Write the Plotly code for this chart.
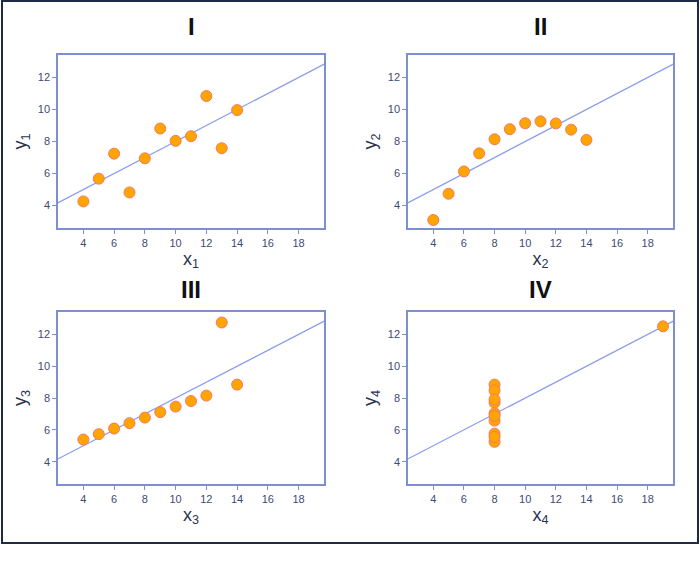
import numpy as np
import plotly.graph_objects as go

# Anscombe's quartet
x123 = [10, 8, 13, 9, 11, 14, 6, 4, 12, 7, 5]
y1 = [8.04, 6.95, 7.58, 8.81, 8.33, 9.96, 7.24, 4.26, 10.84, 4.82, 5.68]
y2 = [9.14, 8.14, 8.74, 8.77, 9.26, 8.10, 6.13, 3.10, 9.13, 7.26, 4.74]
y3 = [7.46, 6.77, 12.74, 7.11, 7.81, 8.84, 6.08, 5.39, 8.15, 6.42, 5.73]
x4 = [8, 8, 8, 8, 8, 8, 8, 19, 8, 8, 8]
y4 = [6.58, 5.76, 7.71, 8.84, 8.47, 7.04, 5.25, 12.50, 5.56, 7.91, 6.89]
titles = ["I", "II", "III", "IV"]
x_ticks = [4, 6, 8, 10, 12, 14, 16, 18]
y_ticks = [4, 6, 8, 10, 12]

datasets = [(x123, y1), (x123, y2), (x123, y3), (x4, y4)]

W, H = 700, 569
cols = [(58, 324), (408, 673)]
rows = [(55, 228), (312, 484)]
title_y = [27, 289]
x_range = [2.35, 19.65]
y_range = [2.6, 13.4]

frame_col = "#7d8fd0"
tick_col = "#3e4a74"
line_col = "#8a9cf0"

fig = go.Figure()
for i, (xs, ys) in enumerate(datasets):
    r, c = divmod(i, 2)
    n = "" if i == 0 else str(i + 1)
    xa, ya = "x" + n, "y" + n
    slope, intercept = np.polyfit(xs, ys, 1)
    lx = np.array([0.0, 22.0])
    fig.add_trace(go.Scatter(x=lx, y=intercept + slope * lx, mode="lines",
                             line=dict(color=line_col, width=1.3),
                             xaxis=xa, yaxis=ya, showlegend=False, hoverinfo="skip"))
    fig.add_trace(go.Scatter(x=xs, y=ys, mode="markers",
                             marker=dict(size=11, color="#ffa500",
                                         line=dict(color="#f3786a", width=1)),
                             xaxis=xa, yaxis=ya, showlegend=False, cliponaxis=False))
    x0, x1 = cols[c]
    yt, yb = rows[r]
    common = dict(showgrid=False, zeroline=False, showline=True, mirror=True,
                  linecolor=frame_col, linewidth=1.5, ticks="outside", ticklen=4,
                  tickcolor=frame_col, tickfont=dict(size=11, color=tick_col,
                                                     family="Liberation Sans"))
    fig.layout["xaxis" + n] = dict(domain=[x0 / W, x1 / W], range=x_range,
                                   tickvals=x_ticks, anchor=ya,
                                   title=dict(text=f"x<sub>{i+1}</sub>", standoff=4,
                                              font=dict(size=18, color="#2a3350",
                                                        family="Liberation Sans")),
                                   **common)
    fig.layout["yaxis" + n] = dict(domain=[1 - yb / H, 1 - yt / H], range=y_range,
                                   tickvals=y_ticks, anchor=xa,
                                   title=dict(text=f"y<sub>{i+1}</sub>", standoff=6,
                                              font=dict(size=18, color="#2a3350",
                                                        family="Liberation Sans")),
                                   **common)
    fig.add_annotation(text=f"<b>{titles[i]}</b>", xref="paper", yref="paper",
                       x=(x0 + x1) / 2 / W, y=1 - title_y[r] / H, showarrow=False,
                       font=dict(size=24, color="#111111", family="Liberation Sans"),
                       xanchor="center", yanchor="middle")

# outer border
fig.add_shape(type="rect", xref="paper", yref="paper",
              x0=2 / W, x1=698 / W, y0=1 - 543 / H, y1=1 - 1 / H,
              line=dict(color="#1f2a44", width=2), fillcolor="rgba(0,0,0,0)")

fig.update_layout(width=W, height=H, margin=dict(l=0, r=0, t=0, b=0),
                  paper_bgcolor="white", plot_bgcolor="white",
                  font=dict(family="Liberation Sans"))
fig.write_html("out.html", config={"displayModeBar": False},
               post_script="document.body.style.margin='0';document.body.style.overflow='hidden';")
